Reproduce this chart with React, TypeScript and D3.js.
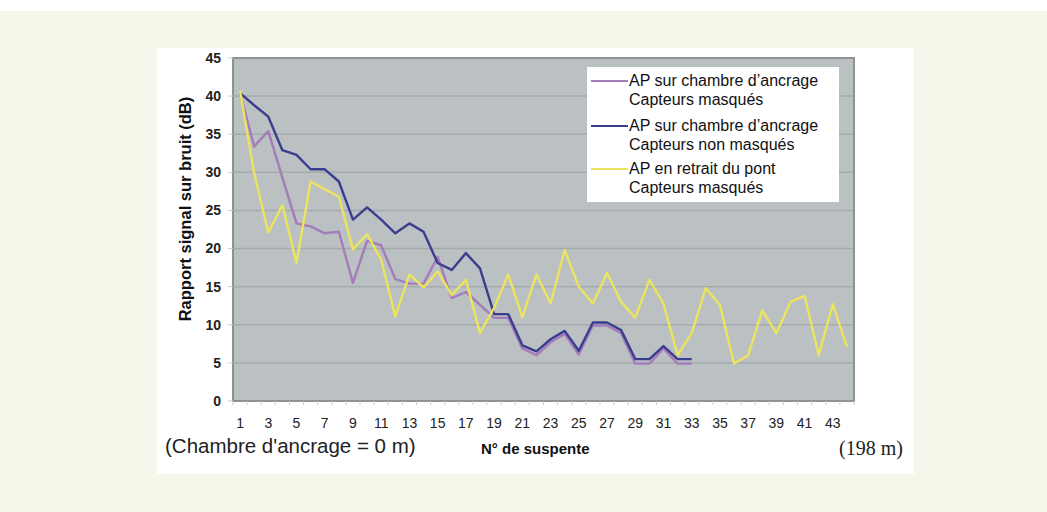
import React from "react";
import * as d3 from "d3";

const categories: number[] = d3.range(1, 45);
const tickLabels: number[] = d3.range(1, 45, 2);
const yTicks: number[] = [0, 5, 10, 15, 20, 25, 30, 35, 40, 45];

const masques: number[] = [40.4, 33.4, 35.4, 29.3, 23.3, 22.9, 22.0, 22.2, 15.5, 21.0, 20.4, 16.0, 15.4, 15.4, 18.9, 13.5, 14.3, 12.6, 10.9, 10.9, 6.9, 6.0, 7.7, 8.8, 6.1, 9.9, 9.9, 8.9, 4.9, 4.9, 6.9, 4.9, 4.9];
const nonMasques: number[] = [40.4, 38.8, 37.3, 32.9, 32.3, 30.4, 30.4, 28.8, 23.8, 25.4, 23.8, 22.0, 23.3, 22.2, 18.1, 17.2, 19.4, 17.4, 11.4, 11.4, 7.3, 6.5, 8.1, 9.2, 6.6, 10.3, 10.3, 9.3, 5.5, 5.5, 7.2, 5.5, 5.5];
const retrait: number[] = [40.7, 29.9, 22.1, 25.7, 18.1, 28.8, 27.8, 26.8, 19.9, 21.9, 18.5, 11.1, 16.6, 14.9, 17.0, 13.9, 15.9, 8.9, 12.2, 16.6, 11.0, 16.6, 12.8, 19.8, 15.0, 12.8, 16.8, 13.0, 10.9, 15.9, 12.8, 6.0, 8.9, 14.8, 12.6, 4.9, 6.0, 11.9, 8.9, 13.0, 13.8, 6.0, 12.7, 7.1];

const series = [
  { name: ["AP sur chambre d\u2019ancrage", "Capteurs masqués"], values: masques, color: "#a57cba" },
  { name: ["AP sur chambre d\u2019ancrage", "Capteurs non masqués"], values: nonMasques, color: "#3a3e8e" },
  { name: ["AP en retrait du pont", "Capteurs masqués"], values: retrait, color: "#ece45e" },
];

const W = 1047, H = 512;
const L = 233, R = 854, T = 58, B = 401;

export default function App() {
  const x = d3.scalePoint<number>().domain(categories).range([L, R]).padding(0.5);
  const y = d3.scaleLinear().domain([0, 45]).range([B, T]);
  const step = x.step();
  const line = d3.line<number>().x((_, i) => x(categories[i]) as number).y((d) => y(d));
  const font = "'Liberation Sans', Arial, sans-serif";

  return (
    <div style={{ position: "fixed", left: 0, top: 0 }}>
      <svg width={W} height={H} style={{ display: "block" }}>
        <rect x={0} y={0} width={W} height={H} fill="#ffffff" />
        <rect x={0} y={11} width={W} height={H - 11} fill="#f4f7ea" />
        <rect x={157} y={48} width={757} height={426} fill="#ffffff" />
        {/* plot area */}
        <rect x={L} y={T} width={R - L} height={B - T} fill="#bbc0c3" />
        {yTicks.filter((t) => t > 0 && t < 45).map((t) => (
          <line key={t} x1={L} x2={R} y1={y(t)} y2={y(t)} stroke="#a5aaad" strokeWidth={1.5} />
        ))}
        <rect x={L} y={T} width={R - L} height={B - T} fill="none" stroke="#8e9295" strokeWidth={2} />
        {/* y ticks */}
        {yTicks.map((t) => (
          <g key={t}>
            <line x1={L - 5} x2={L} y1={y(t)} y2={y(t)} stroke="#c9ccce" strokeWidth={1} />
            <text x={221} y={y(t)} dy="0.35em" textAnchor="end" fontFamily={font} fontSize={14} fontWeight="bold" fill="#222">{t}</text>
          </g>
        ))}
        {/* x ticks */}
        {d3.range(0, categories.length + 1).map((k) => (
          <line key={k} x1={L + k * step} x2={L + k * step} y1={B} y2={B + 4} stroke="#c9ccce" strokeWidth={1} />
        ))}
        {tickLabels.map((c) => (
          <text key={c} x={x(c) as number} y={428} textAnchor="middle" fontFamily={font} fontSize={14} fill="#222">{c}</text>
        ))}
        {/* lines */}
        {series.map((s) => (
          <path key={s.color} d={line(s.values) as string} fill="none" stroke={s.color} strokeWidth={2.4} strokeLinejoin="round" />
        ))}
        {/* legend */}
        <rect x={587} y={67} width={252} height={135} fill="#ffffff" />
        {series.map((s, i) => {
          const yy = [80, 125, 168][i];
          return (
            <g key={i}>
              <line x1={591} x2={628} y1={yy + 1} y2={yy + 1} stroke={s.color} strokeWidth={2} />
              <text x={629} y={yy} dy="0.35em" fontFamily={font} fontSize={16} fill="#111">{s.name[0]}</text>
              <text x={629} y={yy + 19} dy="0.35em" fontFamily={font} fontSize={16} fill="#111">{s.name[1]}</text>
            </g>
          );
        })}
        {/* axis titles */}
        <text transform="translate(191,209) rotate(-90)" textAnchor="middle" fontFamily={font} fontSize={16.5} fontWeight="bold" fill="#111">Rapport signal sur bruit (dB)</text>
        <text x={481} y={454} fontFamily={font} fontSize={15} fontWeight="bold" fill="#111">N° de suspente</text>
        <text x={165} y={453} fontFamily={font} fontSize={20.5} fill="#222">(Chambre d'ancrage = 0 m)</text>
        <text x={903} y={455} textAnchor="end" fontFamily="'Liberation Serif', 'Times New Roman', serif" fontSize={20} fill="#222">(198 m)</text>
      </svg>
    </div>
  );
}
